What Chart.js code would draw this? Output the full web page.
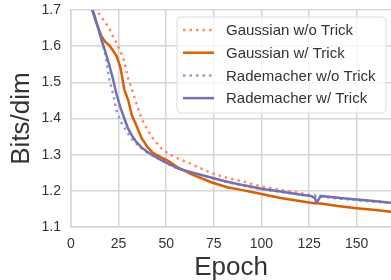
<!DOCTYPE html>
<html>
<head>
<meta charset="utf-8">
<script src="https://cdn.jsdelivr.net/npm/chart.js@4"></script>
<style>
  html, body { margin: 0; padding: 0; background: #fff; }
  canvas { display: block; }
</style>
</head>
<body>
<canvas id="lossChart" width="391" height="280"></canvas>
<script>
var epochs = [10, 12, 14, 16, 18, 20, 22, 24, 26, 28, 30, 32, 34, 37, 40, 43, 47, 51, 56, 64, 74, 82, 90, 100, 110, 120, 126, 128, 129, 130, 131, 140, 150, 160, 170];

var gaussNoTrick = [1.76, 1.725, 1.695, 1.68, 1.665, 1.65, 1.628, 1.607, 1.585, 1.558, 1.51, 1.48, 1.447, 1.40, 1.37, 1.345, 1.32, 1.303, 1.29, 1.272, 1.248, 1.236, 1.226, 1.212, 1.203, 1.194, 1.189, 1.188, 1.187, 1.187, 1.186, 1.18, 1.175, 1.171, 1.166];
var gaussTrick   = [1.72, 1.685, 1.655, 1.627, 1.612, 1.603, 1.588, 1.572, 1.540, 1.48, 1.451, 1.408, 1.385, 1.346, 1.322, 1.305, 1.293, 1.283, 1.265, 1.244, 1.223, 1.21, 1.202, 1.191, 1.18, 1.172, 1.167, 1.166, 1.166, 1.165, 1.165, 1.158, 1.152, 1.147, 1.141];
var radeNoTrick  = [1.72, 1.69, 1.655, 1.615, 1.58, 1.51, 1.47, 1.42, 1.392, 1.375, 1.358, 1.343, 1.332, 1.318, 1.306, 1.297, 1.285, 1.274, 1.262, 1.249, 1.235, 1.224, 1.215, 1.205, 1.197, 1.19, 1.186, 1.185, 1.185, 1.184, 1.184, 1.179, 1.174, 1.17, 1.165];
var radeTrick    = [1.72, 1.69, 1.655, 1.618, 1.585, 1.55, 1.51, 1.465, 1.43, 1.40, 1.372, 1.353, 1.337, 1.320, 1.308, 1.298, 1.286, 1.275, 1.262, 1.25, 1.236, 1.225, 1.216, 1.206, 1.198, 1.19, 1.186, 1.18, 1.168, 1.176, 1.186, 1.181, 1.176, 1.171, 1.166];

var seriesLabels = ['Gaussian w/o Trick', 'Gaussian w/ Trick', 'Rademacher w/o Trick', 'Rademacher w/ Trick'];
var xTicks = [0, 25, 50, 75, 100, 125, 150];
var yTicks = [1.1, 1.2, 1.3, 1.4, 1.5, 1.6, 1.7];

function toPoints(values) {
    return epochs.map((e, i) => ({ x: e, y: values[i] }));
}

var textColor = '#333333';
var gridColor = '#d6d6d6';
var font = 'Liberation Sans, Arial, sans-serif';

// legend drawn inside the plot, top right, like matplotlib's
var insideLegend = {
    id: 'insideLegend',
    afterDatasetsDraw(chart) {
        var ctx = chart.ctx;
        var bx = 177, by = 17, bw = 209, bh = 96;
        ctx.save();
        ctx.beginPath();
        ctx.roundRect(bx, by, bw, bh, 4);
        ctx.fillStyle = 'rgba(255,255,255,0.8)';
        ctx.fill();
        ctx.strokeStyle = '#dcdcdc';
        ctx.lineWidth = 1;
        ctx.stroke();
        ctx.font = '15px ' + font;
        ctx.textBaseline = 'middle';
        ctx.fillStyle = textColor;
        chart.data.datasets.forEach((ds, i) => {
            var y = 30 + i * 22.7;
            ctx.beginPath();
            ctx.strokeStyle = ds.borderColor;
            ctx.lineWidth = ds.borderWidth;
            ctx.setLineDash(ds.borderDash || []);
            ctx.moveTo(183, y);
            ctx.lineTo(214, y);
            ctx.stroke();
            ctx.setLineDash([]);
            ctx.fillText(ds.label, 226, y + 1);
        });
        ctx.restore();
    }
};

// no extra room for half tick labels, the plot runs close to the canvas edges
function noEdgePadding(s) {
    s.paddingTop = 0;
    s.paddingBottom = 0;
    s.paddingLeft = 0;
    s.paddingRight = 0;
}

var ctx = document.getElementById('lossChart').getContext('2d');
var lossChart = new Chart(ctx, {
    type: 'line',
    data: {
        datasets: [
            {
                label: seriesLabels[0],
                data: toPoints(gaussNoTrick),
                borderColor: '#fc8d62',
                borderWidth: 2.5,
                borderDash: [2.5, 4],
                order: 4
            },
            {
                label: seriesLabels[1],
                data: toPoints(gaussTrick),
                borderColor: '#d95f02',
                borderWidth: 2.5,
                order: 3
            },
            {
                label: seriesLabels[2],
                data: toPoints(radeNoTrick),
                borderColor: '#8da0cb',
                borderWidth: 2.5,
                borderDash: [2.5, 4],
                order: 2
            },
            {
                label: seriesLabels[3],
                data: toPoints(radeTrick),
                borderColor: '#7570b3',
                borderWidth: 2.5,
                order: 1
            }
        ]
    },
    options: {
        responsive: false,
        animation: false,
        layout: { padding: { top: 10, left: 0, right: 0, bottom: 0 } },
        elements: {
            point: { radius: 0 },
            line: { tension: 0, borderCapStyle: 'butt' }
        },
        datasets: { line: { clip: 0 } },
        plugins: {
            legend: { display: false },
            tooltip: { enabled: false }
        },
        scales: {
            x: {
                type: 'linear',
                min: 0,
                max: 168,
                afterBuildTicks: s => { s.ticks = xTicks.map(v => ({ value: v })); },
                afterFit: s => { s.height = 53; noEdgePadding(s); },
                grid: { color: gridColor, lineWidth: 1.5, drawTicks: false },
                border: { color: gridColor, width: 1.5 },
                ticks: { color: textColor, font: { family: font, size: 14 }, padding: 9, maxRotation: 0 },
                title: { display: true, text: 'Epoch', color: textColor, font: { family: font, size: 26 }, padding: { top: 2, bottom: -3 } }
            },
            y: {
                min: 1.1,
                max: 1.7,
                afterBuildTicks: s => { s.ticks = yTicks.map(v => ({ value: v })); },
                afterFit: s => { s.width = 71; noEdgePadding(s); },
                grid: { color: gridColor, lineWidth: 1.5, drawTicks: false },
                border: { color: gridColor, width: 1.5 },
                ticks: { color: textColor, font: { family: font, size: 14 }, padding: 10, callback: v => v.toFixed(1) },
                title: { display: true, text: 'Bits/dim', color: textColor, font: { family: font, size: 26 }, padding: { top: 6, bottom: 0 } }
            }
        }
    },
    plugins: [insideLegend]
});
</script>
</body>
</html>
